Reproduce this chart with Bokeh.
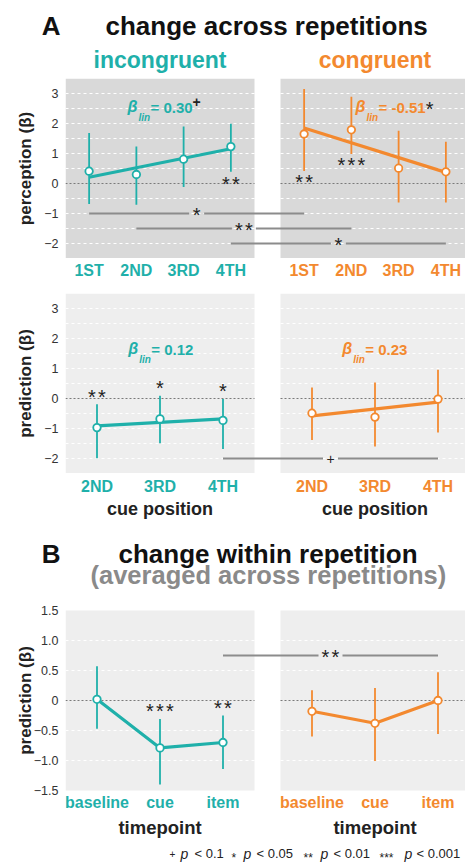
import numpy as np
from bokeh.plotting import figure
from bokeh.layouts import column
from bokeh.models import Range1d, FixedTicker, CustomJSTickFormatter
from bokeh.core.properties import value
from bokeh.embed import file_html
from bokeh.resources import INLINE

# ---------------- data ----------------
rep_labels = ["1ST", "2ND", "3RD", "4TH"]
cue_labels = ["2ND", "3RD", "4TH"]
time_labels = ["baseline", "cue", "item"]

# A: perception, change across repetitions
perc_inc_mean = [0.41, 0.30, 0.81, 1.23]
perc_inc_lo = [-0.68, -0.71, -0.12, 0.39]
perc_inc_hi = [1.68, 1.23, 1.90, 1.99]
perc_inc_fit = [0.21, 1.16]
perc_con_mean = [1.65, 1.79, 0.51, 0.39]
perc_con_lo = [0.42, 0.98, -0.63, -0.63]
perc_con_hi = [3.15, 2.89, 1.76, 1.39]
perc_con_fit = [1.85, 0.37]
perc_beta = ["0.30", "-0.51"]
perc_beta_sig = ["+", "*"]
perc_inc_stars = ["", "", "", "**"]
perc_inc_star_y = [0.0, 0.0, 0.0, 0.03]
perc_con_stars = ["**", "***", "", ""]
perc_con_star_y = [0.11, 0.68, 0.0, 0.0]
perc_cmp_pos = [1, 2, 4]
perc_cmp_y = [-1.0, -1.5, -2.0]
perc_cmp_sig = ["*", "**", "*"]

# A: prediction, by cue position
pred_inc_mean = [-0.97, -0.68, -0.73]
pred_inc_lo = [-1.99, -1.49, -1.68]
pred_inc_hi = [-0.19, 0.09, -0.02]
pred_inc_fit = [-0.91, -0.68]
pred_con_mean = [-0.49, -0.62, -0.02]
pred_con_lo = [-1.38, -1.60, -1.13]
pred_con_hi = [0.37, 0.53, 0.96]
pred_con_fit = [-0.58, -0.12]
pred_beta = ["0.12", "0.23"]
pred_inc_stars = ["**", "*", "*"]
pred_inc_star_y = [0.12, 0.40, 0.29]
pred_cmp_pos = [3]
pred_cmp_y = [-2.0]
pred_cmp_sig = ["+"]

# B: prediction, change within repetition
time_inc_mean = [0.02, -0.79, -0.70]
time_inc_lo = [-0.47, -1.40, -1.14]
time_inc_hi = [0.57, -0.31, -0.25]
time_con_mean = [-0.18, -0.38, 0.00]
time_con_lo = [-0.60, -1.01, -0.56]
time_con_hi = [0.17, 0.21, 0.47]
time_inc_stars = ["", "***", "**"]
time_inc_star_y = [0.0, -0.15, -0.095]
time_cmp_pos = [3]
time_cmp_y = [0.75]
time_cmp_sig = ["**"]

# ---------------- style ----------------
TEAL = "#1FB0AA"
ORANGE = "#F3892F"
DARK = "#222222"
TITLE = "#111111"
SIG = "#8c8c8c"
FONT = "Liberation Sans"
W = 465
FRAME_X = 65
GAP_PX = 26
MID = 0.3465  # em offset of 'middle' above the alphabetic baseline
BOLD_W = {"=": 0.584, " ": 0.278, "-": 0.333, ".": 0.278}


def base_fig(height, xr, yr, yaxis=False):
    p = figure(width=W, height=height, title=None, x_range=xr, y_range=yr,
               output_backend="svg", toolbar_location=None, x_axis_location=None,
               y_axis_location=("left" if yaxis else None),
               min_border_left=FRAME_X, min_border_right=0, min_border_top=0, min_border_bottom=0,
               outline_line_color=None, background_fill_color="white", border_fill_color="white")
    p.grid.visible = False
    return p


def plain_axis(ax, ticks, fmt, size, style, color, standoff):
    ax.ticker = FixedTicker(ticks=ticks)
    ax.formatter = CustomJSTickFormatter(code=fmt)
    ax.axis_line_color = None
    ax.major_tick_line_color = None
    ax.minor_tick_line_color = None
    ax.major_tick_out = 0
    ax.major_tick_in = 0
    ax.major_label_standoff = standoff
    ax.major_label_text_font = FONT
    ax.major_label_text_font_size = size
    ax.major_label_text_font_style = style
    ax.major_label_text_color = color


def txt(p, x, y, s, size, color=DARK, style="bold", align="center", base=False, xo=0, yo=0):
    if base:
        yo = yo - MID * size
    p.text(x=[x], y=[y], text=[s], text_font=value(FONT), text_font_size=value(f"{size}px"),
           text_font_style=style, text_color=color, text_align=align, text_baseline="middle",
           x_offset=xo, y_offset=yo)


def stars(p, x, y, s, xo=0, yo=0, size=20, spacing=10):
    if not s:
        return
    if s == "+":
        txt(p, x, y, "+", 14, DARK, "normal", "center", xo=xo, yo=yo)
        return
    n = len(s)
    for i in range(n):
        txt(p, x, y, "*", size, DARK, "normal", "center",
            xo=xo + (i - (n - 1) / 2) * spacing, yo=yo + 0.08 * size)


class Section:
    def __init__(self, ppu_x, n):
        self.ppu_x = ppu_x
        self.n = n
        self.off = n + GAP_PX / ppu_x

    def X(self, px):
        return 0.5 + (px - FRAME_X) / self.ppu_x

    def band(self, top, bottom, letter=None, letter_base=0):
        p = base_fig(bottom - top, Range1d(0.5, self.X(W)), Range1d(bottom, top), yaxis=bool(letter))
        if letter:
            plain_axis(p.yaxis[0], [letter_base - MID * 26], f'return "{letter}";', "26px", "bold", TITLE, 5)
        return p

    def panel(self, top, height, ylim, ticks, fmt, label, label_standoff, bg, grid_vals, ext=0):
        y0, y1 = ylim
        ppu_y = height / (y1 - y0)
        e = ext / ppu_y
        p = base_fig(height + 2 * ext, Range1d(0.5, self.X(W)), Range1d(y0 - e, y1 + e), yaxis=True)
        ax = p.yaxis[0]
        plain_axis(ax, ticks, fmt, "12.5px", "normal", "#333333", 7)
        ax.axis_label = label
        ax.axis_label_text_font = FONT
        ax.axis_label_text_font_size = "17px"
        ax.axis_label_text_font_style = "bold"
        ax.axis_label_text_color = DARK
        ax.axis_label_standoff = label_standoff
        self.p = p
        self.Y = lambda py: y1 - (py - top) / ppu_y
        for x0 in (0.5, 0.5 + self.off):
            x1 = x0 + self.n
            p.quad(left=[x0], right=[x1], bottom=[y0], top=[y1], fill_color=bg, line_color=None)
            gv = [g for g in grid_vals if g != 0]
            p.segment(x0=[x0] * len(gv), x1=[x1] * len(gv), y0=gv, y1=gv,
                      line_color="white", line_width=1, line_dash="3 3")
            p.segment(x0=[x0], x1=[x1], y0=[0], y1=[0], line_color="#7a7a7a", line_width=1,
                      line_dash="2 2")
        return p

    def sig_lines(self, pos, ys, sigs):
        p = self.p
        for k, y, s in zip(pos, ys, sigs):
            xa, xb = k, self.off + k
            xm = (xa + xb) / 2
            hg = (3 + 4.5 * len(s)) / self.ppu_x
            p.segment(x0=[xa, xm + hg], x1=[xm - hg, xb], y0=[y, y], y1=[y, y],
                      line_color=SIG, line_width=1.8)
            stars(p, xm, y, s)

    def series(self, right, mean, lo, hi, color, fit=None, star_labels=None, star_y=None):
        p = self.p
        xs = [(self.off if right else 0) + i + 1 for i in range(len(mean))]
        p.segment(x0=xs, x1=xs, y0=lo, y1=hi, line_color=color, line_width=1.8)
        if fit is not None:
            p.line([xs[0], xs[-1]], fit, line_color=color, line_width=3.2)
        else:
            p.line(xs, mean, line_color=color, line_width=3.2)
        p.scatter(xs, mean, size=7.5, fill_color="white", line_color=color, line_width=1.8)
        if star_labels:
            for x, s, y in zip(xs, star_labels, star_y):
                stars(p, x, y, s)

    def beta_label(self, page_x, page_base, val, color, sig=""):
        p = self.p
        x, y = self.X(page_x), self.Y(page_base)
        txt(p, x, y, "β", 16, color, "bold italic", "left", base=True)
        txt(p, x, y, "lin", 10, color, "bold italic", "left", base=True, xo=11, yo=8)
        s = "= " + val
        txt(p, x, y, s, 15, color, "bold", "left", base=True, xo=23)
        if sig:
            w = sum(BOLD_W.get(c, 0.556) for c in s) * 15
            if sig == "+":
                txt(p, x, y, "+", 14, DARK, "bold", "center", xo=23 + w + 4, yo=-11)
            else:
                stars(p, x, y, sig, xo=23 + w + 4, yo=-5)

    def cat_labels(self, p, labels, y):
        for i, lab in enumerate(labels):
            txt(p, i + 1, y, lab, 16, TEAL)
            txt(p, self.off + i + 1, y, lab, 16, ORANGE)

    def centers(self):
        return [(self.n + 1) / 2, self.off + (self.n + 1) / 2]


INT_FMT = 'return (tick < 0 ? "\u2212" : "") + Math.abs(tick).toFixed(0);'
DEC_FMT = 'if (tick == 0) { return "0"; } return (tick < 0 ? "\u2212" : "") + Math.abs(tick).toFixed(1);'
A_GRID = list(np.arange(-2, 3.01, 0.5))

# ---------------- section A, top: perception ----------------
s1 = Section(47.25, 4)
h1 = s1.band(0, 78, "A", 35)
txt(h1, s1.X(105), 35, "change across repetitions", 26, TITLE, "bold", "left", base=True)
c1 = s1.centers()
txt(h1, c1[0], 67, "incongruent", 23, TEAL, base=True)
txt(h1, c1[1], 67, "congruent", 23, ORANGE, base=True)

p1 = s1.panel(78, 180, (-2.5, 3.5), [-2, -1, 0, 1, 2, 3], INT_FMT, "perception (β)", 6, "#D9D9D9", A_GRID)
s1.sig_lines(perc_cmp_pos, perc_cmp_y, perc_cmp_sig)
s1.series(False, perc_inc_mean, perc_inc_lo, perc_inc_hi, TEAL, perc_inc_fit, perc_inc_stars, perc_inc_star_y)
s1.series(True, perc_con_mean, perc_con_lo, perc_con_hi, ORANGE, perc_con_fit, perc_con_stars, perc_con_star_y)
s1.beta_label(127, 112, perc_beta[0], TEAL, perc_beta_sig[0])
s1.beta_label(355, 112, perc_beta[1], ORANGE, perc_beta_sig[1])

f1 = s1.band(258, 293)
s1.cat_labels(f1, rep_labels, 270)

# ---------------- section A, bottom: prediction by cue position ----------------
s2 = Section(63, 3)
p2 = s2.panel(293, 180, (-2.5, 3.5), [-2, -1, 0, 1, 2, 3], INT_FMT, "prediction (β)", 6, "#EEEEEE", A_GRID)
s2.sig_lines(pred_cmp_pos, pred_cmp_y, pred_cmp_sig)
s2.series(False, pred_inc_mean, pred_inc_lo, pred_inc_hi, TEAL, pred_inc_fit, pred_inc_stars, pred_inc_star_y)
s2.series(True, pred_con_mean, pred_con_lo, pred_con_hi, ORANGE, pred_con_fit)
s2.beta_label(127.7, 354, pred_beta[0], TEAL)
s2.beta_label(341.7, 354, pred_beta[1], ORANGE)

f2 = s2.band(473, 530)
s2.cat_labels(f2, cue_labels, 486)
for cx in s2.centers():
    txt(f2, cx, 508, "cue position", 18, DARK)

# ---------------- section B ----------------
s3 = Section(63, 3)
h3 = s3.band(530, 590, "B", 563)
txt(h3, s3.X(118), 563, "change within repetition", 26, TITLE, "bold", "left", base=True)
txt(h3, s3.X(90), 583, "(averaged across repetitions)", 25.5, "#8a8a8a", "bold", "left", base=True)

p3 = s3.panel(610, 180, (-1.5, 1.5), [-1.5, -1, -0.5, 0, 0.5, 1, 1.5], DEC_FMT, "prediction (β)", -4,
              "#EEEEEE", [-1.0, -0.5, 0.5, 1.0], ext=20)
s3.sig_lines(time_cmp_pos, time_cmp_y, time_cmp_sig)
s3.series(False, time_inc_mean, time_inc_lo, time_inc_hi, TEAL, None, time_inc_stars, time_inc_star_y)
s3.series(True, time_con_mean, time_con_lo, time_con_hi, ORANGE)
s3.cat_labels(p3, time_labels, s3.Y(802))

f3 = s3.band(810, 865)
for cx in s3.centers():
    txt(f3, cx, 827, "timepoint", 18.5, DARK)

# footnote
FY = 858
FX = -8
foot = [("+", 177, "sym"), ("p", 188, "p"), ("< 0.1", 202, "t"),
        ("*", 239, "star"), ("p", 251, "p"), ("< 0.05", 264, "t"),
        ("**", 311, "star"), ("p", 328, "p"), ("< 0.01", 341, "t"),
        ("***", 387, "star"), ("p", 412, "p"), ("< 0.001", 424, "t")]
for s, px, kind in foot:
    x = s3.X(px + FX)
    if kind == "sym":
        txt(f3, x, FY, s, 10, DARK, "normal", "left", base=True, yo=-1)
    elif kind == "star":
        txt(f3, x, FY, s, 12, DARK, "normal", "left", base=True, yo=3.5)
    elif kind == "p":
        txt(f3, x, FY, s, 14, DARK, "italic", "left", base=True)
    else:
        txt(f3, x, FY, s, 13, DARK, "normal", "left", base=True)

layout = column(h1, p1, f1, p2, f2, h3, p3, f3, spacing=0)
open("out.html", "w").write(file_html(layout, INLINE))
